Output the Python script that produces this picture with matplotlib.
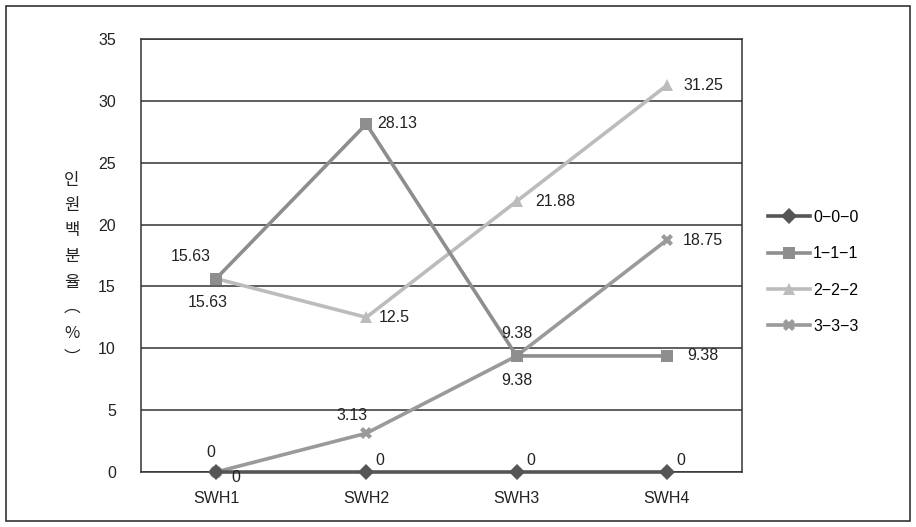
import matplotlib
matplotlib.use("Agg")
import matplotlib.pyplot as plt
from matplotlib.patches import Rectangle

plt.rcParams['font.family'] = ['Liberation Sans', 'Noto Sans CJK KR', 'DejaVu Sans']

categories = ["SWH1", "SWH2", "SWH3", "SWH4"]
series_names = ["0-0-0", "1-1-1", "2-2-2", "3-3-3"]
s000 = [0, 0, 0, 0]
s111 = [15.63, 28.13, 9.38, 9.38]
s222 = [15.63, 12.5, 21.88, 31.25]
s333 = [0, 3.13, 9.38, 18.75]
y_ticks = [0, 5, 10, 15, 20, 25, 30, 35]
y_title = "인원백분율(%)"

# style per series: colour, marker, marker size
STYLES = [
    ("#555555", "D", 8),
    ("#8e8e8e", "s", 9),
    ("#bcbcbc", "^", 9),
    ("#9a9a9a", "X", 8),
]
# label offsets in points, per series/per point
OFFSETS = [
    [(14, -4), (10, 8), (10, 8), (10, 8)],
    [(-18, 16), (22, 0), (0, -18), (26, 0)],
    [(-6, -17), (20, 0), (28, 0), (26, 0)],
    [(-4, 14), (-10, 13), (0, 16), (26, 0)],
]

fig = plt.figure(figsize=(9.16, 5.27), dpi=100)
ax = fig.add_axes([0.1539, 0.1044, 0.6561, 0.8216])

x = list(range(len(categories)))
data = [s000, s111, s222, s333]
order = [3, 2, 1, 0]
for i in order:
    color, mk, ms = STYLES[i]
    ax.plot(x, data[i], color=color, lw=2.6, marker=mk, markersize=ms,
            markeredgewidth=0, label=series_names[i].replace("-", "\u2212"),
            zorder=3 + (4 - i) * 0.1, clip_on=False)
    for xi, yi, (dx, dy) in zip(x, data[i], OFFSETS[i]):
        ax.annotate(f"{yi:g}", (xi, yi), xytext=(dx, dy),
                    textcoords="offset points", ha="center", va="center",
                    fontsize=11.5, color="#222222", zorder=6)

ax.set_xlim(-0.5, 3.5)
ax.set_ylim(0, 35)
ax.set_yticks(y_ticks)
ax.set_xticks(x)
ax.set_xticklabels(categories)
ax.tick_params(axis="both", length=0, labelsize=11.5, colors="#222222")
ax.tick_params(axis="y", pad=18)
ax.tick_params(axis="x", pad=14)
ax.grid(axis="y", color="#333333", lw=1.1, zorder=1)
for side in ["left", "right", "top", "bottom"]:
    ax.spines[side].set_color("#333333")
    ax.spines[side].set_linewidth(1.1)

# vertical stacked y title, one upright character per line
vert = {"(": "\ufe35", ")": "\ufe36"}
for k, ch in enumerate(y_title):
    ypix = 180 + k * 25.5
    fig.text(72 / 916, 1 - ypix / 527, vert.get(ch, ch), ha="center",
             va="center", fontsize=12, color="#222222",
             family=['Noto Sans CJK KR', 'DejaVu Sans'])

handles, labels = ax.get_legend_handles_labels()
hl = dict(zip(labels, handles))
names = [n.replace("-", "\u2212") for n in series_names]
fig.legend([hl[n] for n in names], names, loc="center left",
           bbox_to_anchor=(0.823, 0.484), frameon=False, fontsize=11.5,
           handlelength=2.6, handletextpad=0.2, labelspacing=1.33)

fig.patches.append(Rectangle((0.0066, 0.0114), 0.9868, 0.9772,
                             transform=fig.transFigure, fill=False,
                             edgecolor="#333333", lw=1.2))

fig.savefig("out.png", dpi=100)
